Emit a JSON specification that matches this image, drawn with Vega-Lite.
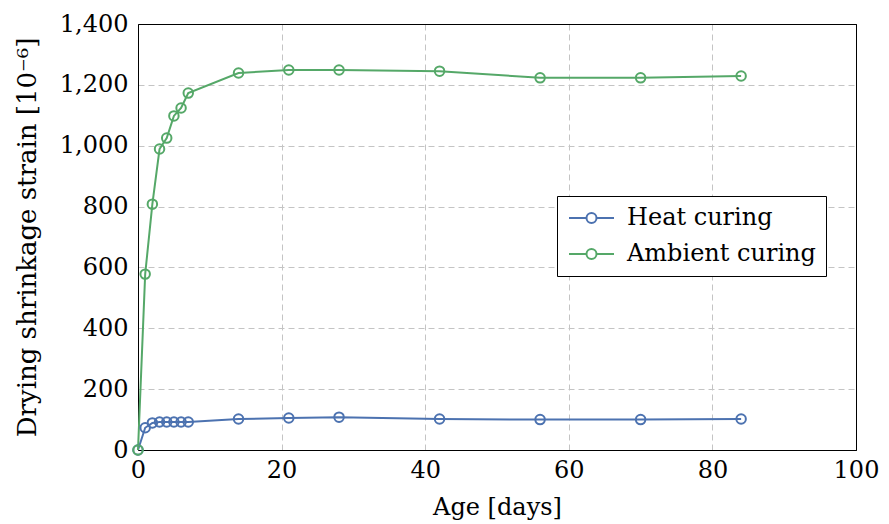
{
  "$schema": "https://vega.github.io/schema/vega-lite/v6.json",
  "autosize": {"type": "none"},
  "padding": {"left": 138, "top": 24, "right": 33, "bottom": 74},
  "width": 718,
  "height": 426,
  "background": "white",
  "config": {
    "font": "DejaVu Serif",
    "view": {"stroke": "black", "strokeWidth": 1},
    "axis": {
      "labelFont": "DejaVu Serif",
      "titleFont": "DejaVu Serif",
      "labelFontSize": 24,
      "titleFontSize": 24,
      "labelColor": "black",
      "titleColor": "black",
      "titleFontWeight": "normal",
      "domainColor": "black",
      "ticks": false,
      "labelFlush": false,
      "gridWidth": 1
    },
    "legend": {
      "labelFont": "DejaVu Serif",
      "labelFontSize": 24,
      "labelColor": "black",
      "labelLimit": 400
    }
  },
  "data": {
    "values": [
      {"day": 0, "strain": 0, "series": "Heat curing"},
      {"day": 1, "strain": 73, "series": "Heat curing"},
      {"day": 2, "strain": 89, "series": "Heat curing"},
      {"day": 3, "strain": 92, "series": "Heat curing"},
      {"day": 4, "strain": 92, "series": "Heat curing"},
      {"day": 5, "strain": 92, "series": "Heat curing"},
      {"day": 6, "strain": 92, "series": "Heat curing"},
      {"day": 7, "strain": 92, "series": "Heat curing"},
      {"day": 14, "strain": 102, "series": "Heat curing"},
      {"day": 21, "strain": 105, "series": "Heat curing"},
      {"day": 28, "strain": 108, "series": "Heat curing"},
      {"day": 42, "strain": 102, "series": "Heat curing"},
      {"day": 56, "strain": 100, "series": "Heat curing"},
      {"day": 70, "strain": 100, "series": "Heat curing"},
      {"day": 84, "strain": 102, "series": "Heat curing"},
      {"day": 0, "strain": 0, "series": "Ambient curing"},
      {"day": 1, "strain": 578, "series": "Ambient curing"},
      {"day": 2, "strain": 808, "series": "Ambient curing"},
      {"day": 3, "strain": 989, "series": "Ambient curing"},
      {"day": 4, "strain": 1025, "series": "Ambient curing"},
      {"day": 5, "strain": 1098, "series": "Ambient curing"},
      {"day": 6, "strain": 1124, "series": "Ambient curing"},
      {"day": 7, "strain": 1173, "series": "Ambient curing"},
      {"day": 14, "strain": 1239, "series": "Ambient curing"},
      {"day": 21, "strain": 1249, "series": "Ambient curing"},
      {"day": 28, "strain": 1249, "series": "Ambient curing"},
      {"day": 42, "strain": 1245, "series": "Ambient curing"},
      {"day": 56, "strain": 1223, "series": "Ambient curing"},
      {"day": 70, "strain": 1223, "series": "Ambient curing"},
      {"day": 84, "strain": 1229, "series": "Ambient curing"}
    ]
  },
  "encoding": {
    "x": {
      "field": "day",
      "type": "quantitative",
      "scale": {"domain": [0, 100], "nice": false},
      "axis": {
        "values": [0, 20, 40, 60, 80, 100],
        "title": "Age [days]",
        "labelPadding": 8,
        "titlePadding": 13,
        "format": "d",
        "gridColor": {"condition": {"test": "datum.value >= 100", "value": "black"}, "value": "#c4c4c4"},
        "gridDash": {"condition": {"test": "datum.value >= 100", "value": []}, "value": [6, 4]}
      }
    },
    "y": {
      "field": "strain",
      "type": "quantitative",
      "scale": {"domain": [0, 1400], "nice": false},
      "axis": {
        "values": [0, 200, 400, 600, 800, 1000, 1200, 1400],
        "title": "Drying shrinkage strain [10⁻⁶]",
        "titleFontSize": 26,
        "format": ",d",
        "labelPadding": 10,
        "titlePadding": 19,
        "gridColor": {"condition": {"test": "datum.value >= 1400", "value": "black"}, "value": "#c4c4c4"},
        "gridDash": {"condition": {"test": "datum.value >= 1400", "value": []}, "value": [6, 4]}
      }
    },
    "color": {
      "field": "series",
      "type": "nominal",
      "sort": ["Heat curing", "Ambient curing"],
      "scale": {"domain": ["Heat curing", "Ambient curing"], "range": ["#4c72b0", "#55a868"]},
      "legend": {
        "title": null,
        "orient": "none",
        "legendX": 419,
        "legendY": 172,
        "padding": 10,
        "strokeColor": "black",
        "fillColor": "white",
        "symbolType": "M-1,0L0.75,0M1.75,0L3.5,0M0.75,0A0.5,0.5 0 1,1 1.75,0A0.5,0.5 0 1,1 0.75,0",
        "symbolSize": 400,
        "symbolStrokeWidth": 2,
        "symbolFillColor": "transparent",
        "labelOffset": 36,
        "rowPadding": 12
      }
    }
  },
  "layer": [
    {"mark": {"type": "line", "strokeWidth": 2}},
    {"mark": {"type": "point", "shape": "circle", "size": 90, "strokeWidth": 2, "filled": false, "opacity": 1}}
  ]
}
